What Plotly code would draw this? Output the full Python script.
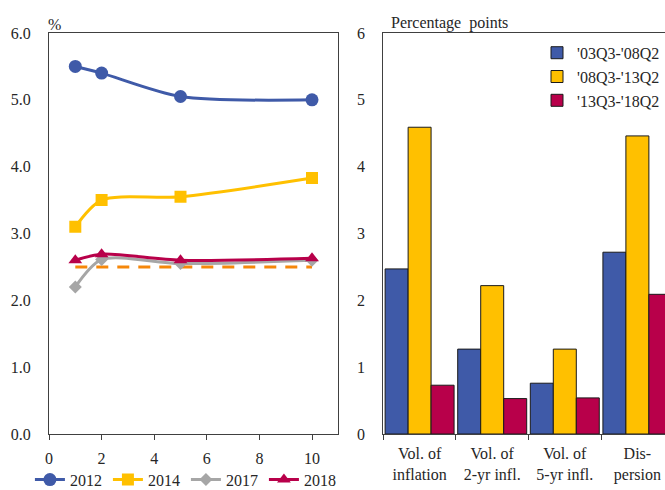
import plotly.graph_objects as go

# Left panel: inflation expectations by horizon (years), per survey year
horizons = [1, 2, 5, 10]
exp_2012 = [5.5, 5.4, 5.05, 5.0]
exp_2014 = [3.1, 3.5, 3.55, 3.83]
exp_2017 = [2.2, 2.61, 2.55, 2.6]
exp_2018 = [2.6, 2.69, 2.6, 2.63]
target_x = [1, 10]
target_y = [2.5, 2.5]

# Right panel: volatility / dispersion measures by period
categories = ["Vol. of<br>inflation", "Vol. of<br>2-yr infl.", "Vol. of<br>5-yr infl.", "Dis-<br>persion"]
period_names = ["'03Q3-'08Q2", "'08Q3-'13Q2", "'13Q3-'18Q2"]
period_values = [
    [2.47, 1.27, 0.76, 2.72],
    [4.59, 2.22, 1.27, 4.46],
    [0.73, 0.53, 0.54, 2.09],
]

BLUE = "#3F5AA8"
YELLOW = "#FFC000"
GRAY = "#A6A6A6"
CRIMSON = "#B8004A"
ORANGE = "#F5870A"
FONT = "Liberation Serif"
TEXT = "#262626"

fig = go.Figure()

line_series = [
    ("2012", exp_2012, BLUE, "circle", 13),
    ("2014", exp_2014, YELLOW, "square", 12),
    ("2017", exp_2017, GRAY, "diamond", 10),
    ("2018", exp_2018, CRIMSON, "triangle-up", 12),
]

fig.add_trace(go.Scatter(
    x=target_x, y=target_y, mode="lines",
    line=dict(color=ORANGE, width=3, dash="12px,9px"),
    showlegend=False, hoverinfo="skip", xaxis="x", yaxis="y",
))

for name, vals, color, symbol, size in line_series:
    fig.add_trace(go.Scatter(
        x=horizons, y=vals, name=name, mode="lines+markers",
        line=dict(color=color, width=3, shape="spline", smoothing=0.8),
        marker=dict(symbol=symbol, size=size, color=color),
        xaxis="x", yaxis="y", legend="legend",
    ))

bar_colors = [BLUE, YELLOW, CRIMSON]
for name, vals, color in zip(period_names, period_values, bar_colors):
    fig.add_trace(go.Bar(
        x=categories, y=vals, name=name,
        marker=dict(color=color, line=dict(color="#1a1a1a", width=1)),
        xaxis="x2", yaxis="y2", legend="legend2",
    ))

W, H = 665, 490
left_x0, left_x1 = 49, 338.3
right_x0 = 383.3
cat_px = 72.6
right_range_end = -0.5 + (W - right_x0) / cat_px

axis_common = dict(
    showline=True, linecolor="#404040", linewidth=1,
    showgrid=False, zeroline=False,
    tickfont=dict(family=FONT, size=16, color=TEXT),
)

fig.update_layout(
    width=W, height=H,
    margin=dict(l=0, r=0, t=33, b=56, autoexpand=False),
    paper_bgcolor="white", plot_bgcolor="white",
    font=dict(family=FONT, size=16, color=TEXT),
    barmode="group", bargap=0.05, bargroupgap=0,
    xaxis=dict(
        domain=[left_x0 / W, left_x1 / W], range=[0, 11],
        tickvals=[0, 2, 4, 6, 8, 10], ticks="outside", ticklen=5,
        tickcolor="#404040", mirror=True, anchor="y",
        ticklabelstandoff=5, **axis_common,
    ),
    yaxis=dict(
        domain=[0, 1], range=[0, 6], tickvals=[0, 1, 2, 3, 4, 5, 6],
        tickformat=".1f", ticks="", mirror=True, anchor="x",
        ticklabelstandoff=14, **axis_common,
    ),
    xaxis2=dict(
        domain=[right_x0 / W, 1], range=[-0.5, right_range_end],
        type="category", tickson="boundaries", ticks="outside", ticklen=5,
        tickcolor="#404040", mirror=True, anchor="y2",
        ticklabelstandoff=5, **axis_common,
    ),
    yaxis2=dict(
        domain=[0, 1], range=[0, 6], tickvals=[0, 1, 2, 3, 4, 5, 6],
        ticks="", mirror=False, anchor="x2",
        ticklabelstandoff=14, **axis_common,
    ),
    legend=dict(
        orientation="h", x=0.045, xanchor="left", y=-0.114, yanchor="middle",
        font=dict(family=FONT, size=16, color=TEXT),
        bgcolor="rgba(0,0,0,0)", itemwidth=30, entrywidth=33, tracegroupgap=0,
    ),
    legend2=dict(
        orientation="v", x=1.0, xanchor="right", y=0.993, yanchor="top",
        font=dict(family=FONT, size=16, color=TEXT),
        bgcolor="rgba(0,0,0,0)", itemwidth=30, tracegroupgap=0,
    ),
    annotations=[
        dict(text="%", xref="paper", yref="paper", x=left_x0 / W, y=1,
             xanchor="left", yanchor="bottom", xshift=-3, yshift=-2,
             showarrow=False, font=dict(family=FONT, size=16, color=TEXT)),
        dict(text="Percentage  points", xref="paper", yref="paper",
             x=(right_x0 + 6) / W, y=1, xanchor="left", yanchor="bottom",
             yshift=-1, showarrow=False,
             font=dict(family=FONT, size=16, color=TEXT)),
    ],
)

fig.write_html("out.html")
